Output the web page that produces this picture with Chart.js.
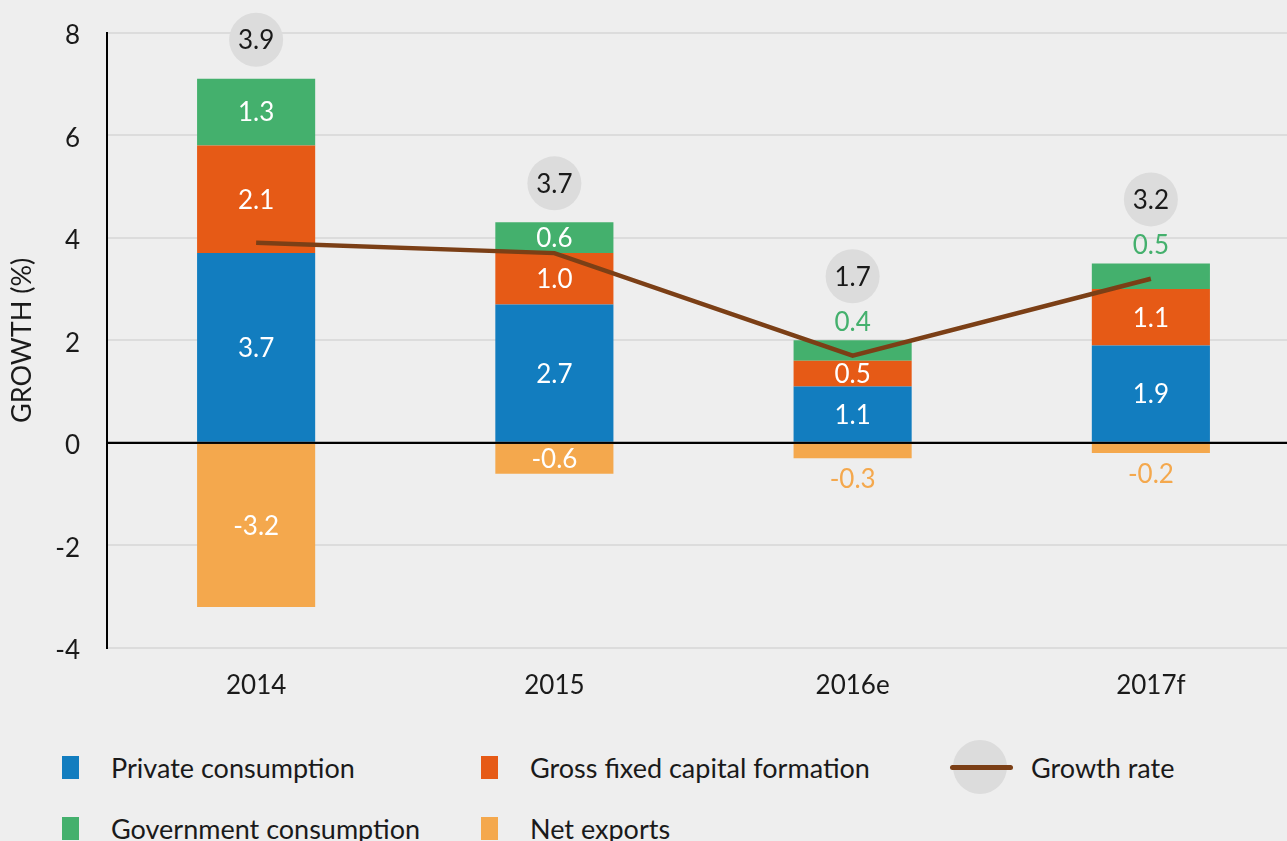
<!DOCTYPE html>
<html><head><meta charset="utf-8">
<script src="https://cdn.jsdelivr.net/npm/chart.js@4/dist/chart.umd.min.js"></script>
<style>
html,body{margin:0;padding:0;background:#eeeeee;overflow:hidden;width:1287px;height:841px;position:relative;}
#wrap{position:absolute;left:0;top:-10px;width:1300px;height:710px;}
.lt{position:absolute;font-family:Lato,'Open Sans',sans-serif;font-size:27px;line-height:32px;color:#1a1a1a;white-space:nowrap;}
.lm{position:absolute;width:17px;height:23px;}
</style></head>
<body>
<div id="wrap"><canvas id="c"></canvas></div>
<div id="legend"></div>
<script>
const categories = ['2014', '2015', '2016e', '2017f'];
const privateConsumption = [3.7, 2.7, 1.1, 1.9];
const grossFixedCapitalFormation = [2.1, 1.0, 0.5, 1.1];
const governmentConsumption = [1.3, 0.6, 0.4, 0.5];
const netExports = [-3.2, -0.6, -0.3, -0.2];
const growthRate = [3.9, 3.7, 1.7, 3.2];
const yTickValues = [-4, -2, 0, 2, 4, 6, 8];
const seriesNames = ['Private consumption', 'Gross fixed capital formation', 'Government consumption', 'Net exports'];
const seriesColors = ['#127dbf', '#e65a16', '#44b06d', '#f4a84d'];
const lineName = 'Growth rate';
const lineColor = '#7b3f16';

const FONT = 'Lato, "Open Sans", sans-serif';
const barSeries = [privateConsumption, grossFixedCapitalFormation, governmentConsumption, netExports];

const labelPlugin = {
  id: 'labels',
  afterDatasetsDraw(chart) {
    const ctx = chart.ctx;
    const ys = chart.scales.y;
    const area = chart.chartArea;
    const y0 = ys.getPixelForValue(0);
    ctx.save();
    ctx.strokeStyle = '#000';
    ctx.lineWidth = 2;
    ctx.beginPath();
    ctx.moveTo(area.left, y0);
    ctx.lineTo(area.right, y0);
    ctx.stroke();
    ctx.restore();

    ctx.save();
    ctx.font = '26px ' + FONT;
    ctx.textAlign = 'center';
    ctx.textBaseline = 'middle';
    const greenOutside = [];
    chart.data.datasets.forEach((ds, di) => {
      if (ds.type === 'line') return;
      const meta = chart.getDatasetMeta(di);
      const outer = ds.seriesIndex === 2 || ds.seriesIndex === 3;
      meta.data.forEach((el, i) => {
        const v = ds.data[i];
        const top = Math.min(el.y, el.base), bottom = Math.max(el.y, el.base);
        const txt = v.toFixed(1);
        if (!outer || Math.abs(v) >= 0.55) {
          ctx.fillStyle = '#ffffff';
          ctx.fillText(txt, el.x, (top + bottom) / 2 + 1);
          if (ds.seriesIndex === 2) greenOutside[i] = false;
        } else {
          ctx.fillStyle = ds.backgroundColor;
          if (v > 0) {
            ctx.fillText(txt, el.x, top - 18);
            greenOutside[i] = true;
          } else {
            ctx.fillText(txt, el.x, bottom + 21);
          }
        }
      });
    });
    const greenIdx = chart.data.datasets.findIndex(d => d.seriesIndex === 2);
    const gMeta = chart.getDatasetMeta(greenIdx);
    const lineDs = chart.data.datasets.find(d => d.type === 'line');
    gMeta.data.forEach((el, i) => {
      const top = Math.min(el.y, el.base);
      const cy = top - (greenOutside[i] ? 64 : 39);
      ctx.fillStyle = '#dcdcdc';
      ctx.beginPath();
      ctx.arc(el.x, cy, 27, 0, Math.PI * 2);
      ctx.fill();
      ctx.fillStyle = '#1a1a1a';
      ctx.fillText(lineDs.data[i].toFixed(1), el.x, cy + 1);
    });
    ctx.restore();
  }
};

const datasets = [{
  type: 'line', label: lineName, data: growthRate, borderColor: lineColor, borderWidth: 4.5,
  pointRadius: 0, tension: 0, order: 0, fill: false
}];
barSeries.forEach((arr, k) => {
  datasets.push({
    label: seriesNames[k], data: arr, backgroundColor: seriesColors[k], stack: 's',
    order: 1, seriesIndex: k, borderWidth: 0
  });
});

new Chart(document.getElementById('c'), {
  type: 'bar',
  data: { labels: categories, datasets },
  options: {
    responsive: true, maintainAspectRatio: false, animation: false,
    layout: { padding: { top: 25, left: 0, right: 0, bottom: 0 } },
    plugins: { legend: { display: false }, tooltip: { enabled: false } },
    datasets: { bar: { categoryPercentage: 1, barPercentage: 0.396 } },
    scales: {
      x: {
        stacked: true,
        grid: { display: false, drawTicks: false },
        border: { display: false },
        ticks: { font: { family: FONT, size: 26 }, color: '#1a1a1a', padding: 22 },
        afterFit(s) { s.height = 52; }
      },
      y: {
        stacked: true, min: -4, max: 8,
        afterBuildTicks(s) { s.ticks = yTickValues.map(v => ({ value: v })); },
        grid: { color: c => (c.tick && c.tick.value === 0) ? '#000' : '#dcdcdc', lineWidth: 2, drawTicks: false },
        border: { color: '#000', width: 2 },
        ticks: { font: { family: FONT, size: 26 }, color: '#1a1a1a', padding: 27, labelOffset: 3 },
        title: { display: true, text: 'GROWTH (%)', font: { family: FONT, size: 27 }, color: '#1a1a1a', padding: { top: 6, bottom: 0 } },
        afterFit(s) { s.width = 107; }
      }
    }
  },
  plugins: [labelPlugin]
});

const legend = document.getElementById('legend');
const legPos = [
  { mx: 62, tx: 111, cy: 768 },
  { mx: 481, tx: 530, cy: 768 },
  { mx: 62, tx: 111, cy: 829 },
  { mx: 481, tx: 530, cy: 829 }
];
seriesNames.forEach((n, k) => {
  const p = legPos[k];
  const m = document.createElement('div');
  m.className = 'lm';
  m.style.left = p.mx + 'px'; m.style.top = (p.cy - 12) + 'px'; m.style.background = seriesColors[k];
  legend.appendChild(m);
  const t = document.createElement('div');
  t.className = 'lt'; t.textContent = n;
  t.style.left = p.tx + 'px'; t.style.top = (p.cy - 16) + 'px';
  legend.appendChild(t);
});
const circ = document.createElement('div');
circ.style.cssText = 'position:absolute;left:953px;top:740px;width:54px;height:54px;border-radius:50%;background:#dcdcdc;';
legend.appendChild(circ);
const ln = document.createElement('div');
ln.style.cssText = 'position:absolute;left:950px;top:765px;width:63px;height:5px;border-radius:3px;background:' + lineColor + ';';
legend.appendChild(ln);
const lt = document.createElement('div');
lt.className = 'lt'; lt.textContent = lineName;
lt.style.left = '1031px'; lt.style.top = (768 - 16) + 'px';
legend.appendChild(lt);
</script>
</body></html>
